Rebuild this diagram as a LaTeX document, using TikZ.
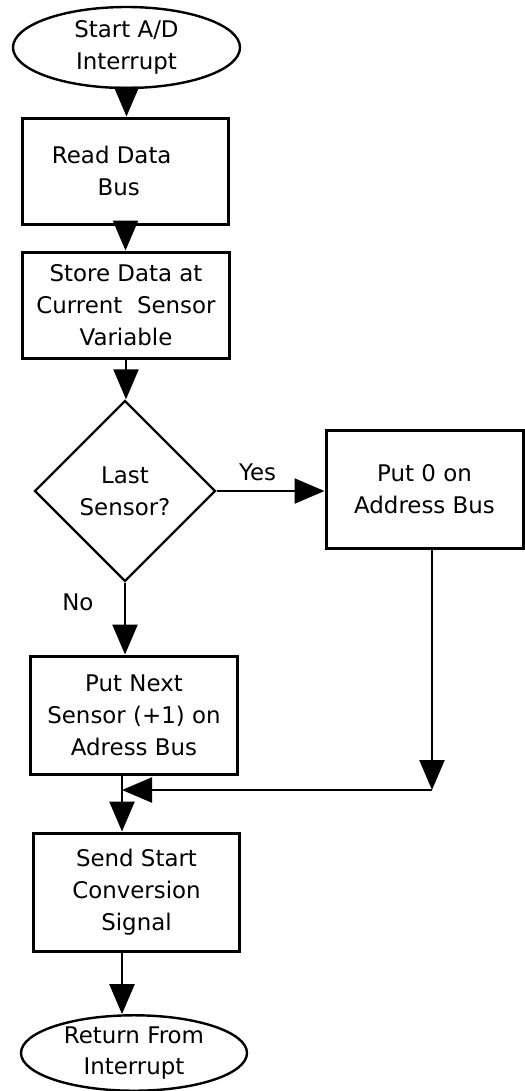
\documentclass[tikz,border=0pt]{standalone}
\usepackage{fontspec}
\setmainfont{DejaVu Sans}
\usetikzlibrary{arrows.meta,shapes.geometric}
\definecolor{flInk}{HTML}{000000}
\tikzset{
  fl text/.style={font=\fontsize{23}{32}\selectfont, text=flInk, align=center},
  fl terminal/.style={fl text, ellipse, draw=flInk, line width=2.4bp, inner sep=0pt},
  fl box/.style={fl text, rectangle, draw=flInk, line width=3bp, inner sep=0pt},
  fl decision/.style={
    fl text, diamond, draw=flInk, line width=2.4bp, inner sep=0pt,
    minimum width=181bp, minimum height=181bp
  },
  fl flow/.style={
    draw=flInk,
    line width=2.4bp,
    -{Triangle[length=30bp,width=25bp]}
  },
  fl label/.style={font=\fontsize{23}{32}\selectfont, text=flInk}
}

\begin{document}
\begin{tikzpicture}[x=1bp,y=-1bp]
  \useasboundingbox (0,0) rectangle (525,1091);

  % main column
  \node[fl terminal, minimum width=227bp, minimum height=81bp] (start) at (126.5,47.5) {Start A/D\\Interrupt};
  \node[fl box, minimum width=205bp, minimum height=106bp] (read) at (125.5,171) {Read Data\hspace*{1.2em}\\Bus\hspace*{.6em}};
  \node[fl box, minimum width=206bp, minimum height=106bp] (store) at (126,305) {Store Data at\\Current\ \ Sensor\\Variable};
  \node[fl decision] (last) at (125,491) {Last\\Sensor?};
  \node[fl box, minimum width=206bp, minimum height=118bp] (next) at (134,715) {Put Next\\Sensor (+1) on\\Adress Bus};
  \node[fl box, minimum width=205bp, minimum height=118bp] (send) at (136.5,892) {Send Start\\Conversion\\Signal};
  \node[fl terminal, minimum width=226bp, minimum height=74bp] (ret) at (134,1053) {Return From\\Interrupt};

  % yes branch
  \node[fl box, minimum width=197bp, minimum height=118bp] (zero) at (424.5,489) {Put 0 on\\Address Bus};

  \coordinate (merge) at (122,790);
  \coordinate (corner) at (432,790);

  \draw[fl flow] (start.south) -- (start.south |- read.north);
  \draw[fl flow] (read.south) -- (read.south |- store.north);
  \draw[fl flow] (store.south) -- (store.south |- last.north);
  \draw[fl flow] (last.east) -- (last.east -| zero.west)
    node[fl label, above=6bp, pos=.38] {Yes};
  \draw[fl flow] (last.south) -- (last.south |- next.north)
    node[fl label, left=27bp, pos=.27] {No};
  \draw[fl flow] (zero.south -| corner) -- (corner);
  \draw[fl flow] (corner) -- (merge);
  \draw[fl flow] (next.south -| merge) -- (send.north -| merge);
  \draw[fl flow] (send.south -| merge) -- (ret.north -| merge);
\end{tikzpicture}
\end{document}
